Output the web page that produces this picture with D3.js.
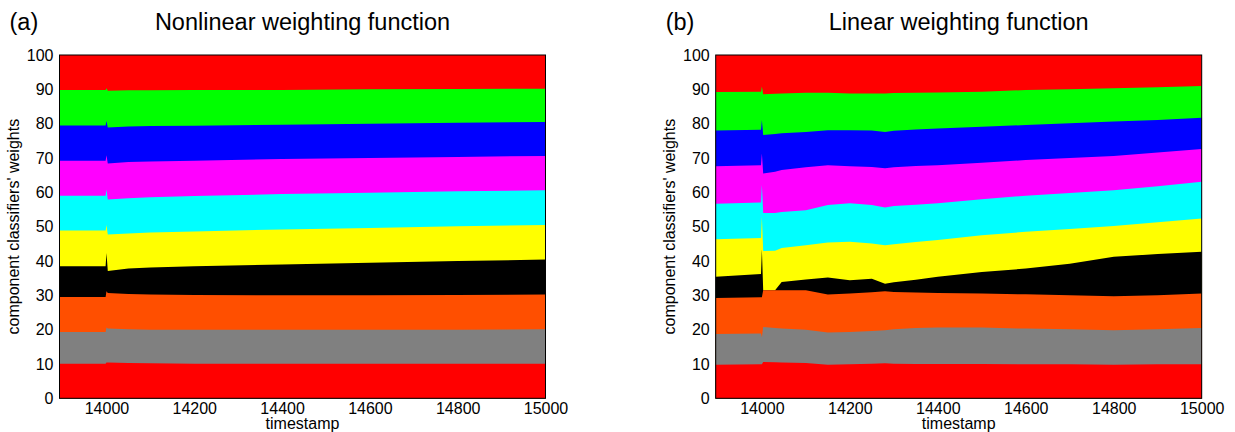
<!DOCTYPE html>
<html lang="en">
<head>
<meta charset="UTF-8">
<title>Component classifiers' weights</title>
<script src="https://cdn.jsdelivr.net/npm/d3@7"></script>
<style>
  body { margin: 0; background: #fff; }
  svg text { font-family: "Liberation Sans", Arial, Helvetica, sans-serif; fill: #000; }
</style>
</head>
<body>
<div id="chart"></div>
<script>

// colours of the 10 component classifiers, bottom to top
var classColors = ["#ff0000", "#808080", "#ff4f00", "#000000", "#ffff00",
                   "#00ffff", "#ff00ff", "#0000ff", "#00ff00", "#ff0000"];

var yTicks = [0, 10, 20, 30, 40, 50, 60, 70, 80, 90, 100];
var xTicks = [14000, 14200, 14400, 14600, 14800, 15000];

// (a) nonlinear weighting: timestamps and weight (%) of each classifier
var nonlinearTime = [13893, 13998, 14000, 14003, 14050, 14100, 14200, 14400, 14600, 14800, 15000];
var nonlinearW = [
  [10.1, 10.1, 10.4, 10.4, 10.3, 10.2, 10.1, 10.1, 10.1, 10.1, 10.1],
  [9.2, 9.2, 10.2, 9.9, 9.8, 9.8, 9.9, 9.9, 9.9, 9.9, 10.0],
  [10.2, 10.2, 10.6, 10.4, 10.3, 10.2, 10.1, 10.0, 10.0, 10.1, 10.1],
  [9.0, 9.0, 11.1, 6.4, 7.4, 7.9, 8.4, 9.0, 9.5, 9.9, 10.2],
  [10.4, 10.4, 8.2, 10.6, 10.2, 10.2, 10.1, 10.2, 10.1, 10.1, 10.1],
  [10.1, 10.1, 10.3, 10.2, 10.3, 10.3, 10.3, 10.3, 10.3, 10.2, 10.1],
  [10.2, 10.2, 10.0, 10.5, 10.5, 10.4, 10.3, 10.2, 10.1, 10.0, 10.0],
  [10.3, 10.3, 10.0, 10.5, 10.4, 10.3, 10.2, 10.0, 10.0, 10.0, 9.9],
  [10.3, 10.3, 9.5, 10.7, 10.5, 10.4, 10.4, 10.1, 10.0, 9.8, 9.7],
  [10.2, 10.2, 9.7, 10.4, 10.3, 10.3, 10.2, 10.2, 10.0, 9.9, 9.8]
];

// (b) linear weighting
var linearTime = [13895, 13998, 14000, 14003, 14030, 14045, 14100, 14150, 14200, 14250,
                  14280, 14300, 14350, 14400, 14500, 14600, 14700, 14800, 14900, 15000];
var linearW = [
  [9.8, 9.9, 9.9, 10.6, 10.5, 10.4, 10.3, 9.8, 9.9, 10.1, 10.2, 10.1, 10.0, 10.0, 10.0, 9.9, 9.9, 9.8, 9.9, 9.9],
  [8.9, 9.0, 7.9, 10.2, 10.0, 9.9, 9.7, 9.4, 9.4, 9.5, 9.6, 10.0, 10.5, 10.6, 10.6, 10.4, 10.2, 10.0, 10.2, 10.6],
  [10.5, 10.5, 11.6, 10.7, 11.0, 11.2, 11.5, 11.0, 11.2, 11.3, 11.4, 10.9, 10.3, 10.1, 9.9, 10.0, 9.9, 9.9, 9.9, 10.0],
  [6.2, 6.8, 14.0, 0, 0, 2.4, 3.1, 5.0, 3.9, 3.9, 2.2, 2.8, 3.7, 4.7, 6.3, 7.5, 9.2, 11.5, 12.0, 12.2],
  [10.9, 10.5, 9.5, 11.4, 11.5, 9.9, 10.0, 10.2, 11.2, 10.3, 11.2, 11.1, 11.0, 10.7, 10.7, 10.7, 10.1, 9.0, 9.3, 9.7],
  [10.4, 10.3, 9.2, 11.1, 11.0, 10.5, 10.2, 10.9, 11.2, 11.2, 11.0, 11.1, 10.9, 10.7, 10.5, 10.5, 10.5, 10.4, 10.5, 10.7],
  [10.9, 10.9, 9.2, 11.5, 12.0, 12.2, 12.5, 11.6, 10.8, 11.1, 11.4, 11.3, 11.3, 11.1, 10.6, 10.4, 10.2, 10.0, 9.8, 9.5],
  [10.4, 10.3, 9.7, 11.2, 11.0, 10.7, 10.3, 10.2, 10.5, 10.6, 10.6, 10.6, 10.6, 10.7, 10.5, 10.2, 10.1, 10.0, 9.5, 9.1],
  [11.2, 11.1, 9.8, 11.9, 11.7, 11.6, 11.4, 10.9, 10.7, 10.8, 11.2, 11.0, 10.7, 10.5, 10.2, 10.2, 9.9, 9.7, 9.5, 9.3],
  [10.8, 10.7, 9.2, 11.4, 11.3, 11.2, 11.0, 11.0, 11.2, 11.2, 11.2, 11.1, 11.0, 10.9, 10.7, 10.2, 10.0, 9.7, 9.4, 9.0]
];

var width = 1235, height = 432;
var top_ = 55, bottom = 398.3;

var svg = d3.select("#chart").append("svg")
    .attr("width", width)
    .attr("height", height);

function drawPanel(o) {
    var x = d3.scaleLinear().domain([o.time[0], 15000]).range([o.left, o.right]);
    var y = d3.scaleLinear().domain([0, 100]).range([bottom, top_]);

    // rows for d3.stack
    var keys = d3.range(o.weights.length);
    var rows = o.time.map(function(t, i) {
        var r = { t: t };
        keys.forEach(function(k) { r[k] = o.weights[k][i]; });
        return r;
    });
    var series = d3.stack().keys(keys)(rows);

    // draw from the top band downwards, each filled to 0, so no seams show
    var area = d3.area()
        .x(function(d) { return x(d.data.t); })
        .y0(y(0))
        .y1(function(d) { return y(d[1]); });

    var g = svg.append("g");
    g.selectAll("path.band")
        .data(series.slice().reverse())
        .enter().append("path")
        .attr("class", "band")
        .attr("fill", function(d) { return classColors[d.key]; })
        .attr("d", area);

    // frame
    svg.append("rect")
        .attr("x", o.left).attr("y", top_)
        .attr("width", o.right - o.left).attr("height", bottom - top_)
        .attr("fill", "none").attr("stroke", "#000").attr("stroke-width", 1);

    var yAxis = svg.append("g")
        .attr("transform", "translate(" + o.left + ",0)")
        .call(d3.axisLeft(y).tickValues(yTicks).tickSize(0).tickPadding(6));
    yAxis.select(".domain").remove();
    yAxis.selectAll("text").style("font-size", "16px");

    var xAxis = svg.append("g")
        .attr("transform", "translate(0," + bottom + ")")
        .call(d3.axisBottom(x).tickValues(xTicks).tickFormat(d3.format("d")).tickSize(0).tickPadding(4));
    xAxis.select(".domain").remove();
    xAxis.selectAll("text").style("font-size", "16px");

    svg.append("text")
        .attr("x", (o.left + o.right) / 2).attr("y", 428.5)
        .attr("text-anchor", "middle").style("font-size", "16px")
        .text("timestamp");

    svg.append("text")
        .attr("transform", "translate(" + (o.left - 40.5) + "," + ((top_ + bottom) / 2) + ") rotate(-90)")
        .attr("text-anchor", "middle").style("font-size", "16px")
        .text("component classifiers' weights");

    svg.append("text")
        .attr("x", o.left - 50).attr("y", 29.5)
        .style("font-size", "23.5px")
        .text(o.tag);

    svg.append("text")
        .attr("x", (o.left + o.right) / 2).attr("y", 29.5)
        .attr("text-anchor", "middle").style("font-size", "23.5px")
        .text(o.title);
}

drawPanel({ left: 59.5, right: 545.5, time: nonlinearTime, weights: nonlinearW,
            tag: "(a)", title: "Nonlinear weighting function" });
drawPanel({ left: 715.7, right: 1201.7, time: linearTime, weights: linearW,
            tag: "(b)", title: "Linear weighting function" });

</script>
</body>
</html>
